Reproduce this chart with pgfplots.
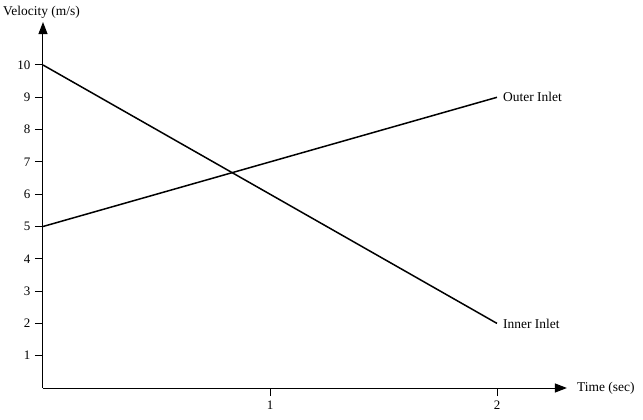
\documentclass[border=0pt]{standalone}
\usepackage{pgfplots}
\pgfplotsset{compat=1.18}
\usetikzlibrary{arrows.meta}
\usepackage{fontspec}
\setmainfont{Liberation Serif}
\begin{document}
\fontsize{13.5}{15}\selectfont
\begin{tikzpicture}
\useasboundingbox (-43bp,-32bp) rectangle (600bp,388bp);
\begin{axis}[
  anchor=origin, at={(0,0)},
  x=227bp, y=32.3bp,
  xmin=0, xmax=2.308, ymin=0, ymax=11.33,
  axis lines=left,
  axis line style={line width=1bp, -{Triangle[length=12bp,width=9bp]}},
  tick align=outside,
  major tick length=8bp,
  tick style={line width=1bp, black},
  xtick={1,2}, ytick={1,2,3,4,5,6,7,8,9,10},
  /pgf/number format/assume math mode=true,
  tick label style={font=\fontsize{13}{15}\selectfont},
  label style={font=\fontsize{13.5}{15}\selectfont, inner sep=0pt},
  xlabel={Time (sec)},
  ylabel={Velocity (m/s)},
  xlabel style={at={(rel axis cs:1.019,0)}, anchor=west},
  ylabel style={rotate=-90, at={(rel axis cs:-0.0763,1.027)}, anchor=west},
  clip=false,
]
\addplot[black, line width=1.5bp] coordinates {(0,10) (2,2)};
\addplot[black, line width=1.5bp] coordinates {(0,5) (2,9)};
\node[anchor=west, inner sep=0pt, xshift=6bp] at (axis cs:2,9) {Outer Inlet};
\node[anchor=west, inner sep=0pt, xshift=6bp] at (axis cs:2,2) {Inner Inlet};
\end{axis}
\end{tikzpicture}
\end{document}
